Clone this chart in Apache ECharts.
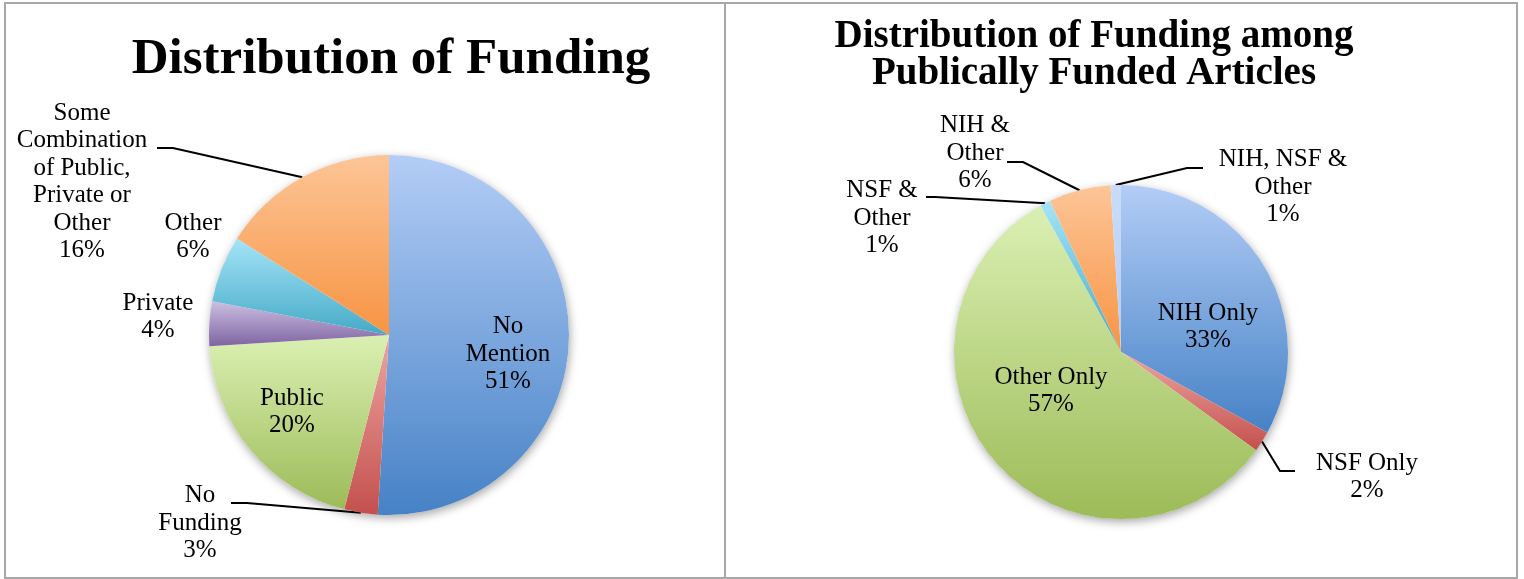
<!DOCTYPE html>
<html><head><meta charset="utf-8">
<script src="https://cdn.jsdelivr.net/npm/echarts@6/dist/echarts.min.js"></script>
<style>html,body{margin:0;padding:0;background:#fff}#c{width:1524px;height:579px}</style>
</head><body><div id="c"></div>
<script>
// ---- data ----
const leftCategories = ['No Mention', 'No Funding', 'Public', 'Private', 'Other', 'Some Combination of Public, Private or Other'];
const leftValues = [51, 3, 20, 4, 6, 16];
const rightCategories = ['NIH Only', 'NSF Only', 'Other Only', 'NSF & Other', 'NIH & Other', 'NIH, NSF & Other'];
const rightValues = [33, 2, 57, 1, 6, 1];
const leftTitle = 'Distribution of Funding';
const rightTitle = 'Distribution of Funding among\nPublically Funded Articles';

// ---- text wrapping of labels ----
const wrapText = {
  'No Mention': 'No\nMention',
  'No Funding': 'No\nFunding',
  'Some Combination of Public, Private or Other': 'Some\nCombination\nof Public,\nPrivate or\nOther',
  'NSF & Other': 'NSF &\nOther',
  'NIH & Other': 'NIH &\nOther',
  'NIH, NSF & Other': 'NIH, NSF &\nOther'
};

// ---- styles ----
const FONT = '"Liberation Serif", "Times New Roman", serif';
const pal = {
  blue: ['#b3cdf6', '#4682c6'],
  red: ['#eda5a3', '#c4504d'],
  green: ['#daf0b3', '#9dbb58'],
  purple: ['#cbbfe2', '#7f64a1'],
  cyan: ['#a5e4f8', '#45aac6'],
  orange: ['#fdc597', '#f79443'],
  pale: ['#cadcf7', '#b4cdf2']
};
const leftColors = [pal.blue, pal.red, pal.green, pal.purple, pal.cyan, pal.orange];
const rightColors = [pal.blue, pal.red, pal.green, pal.cyan, pal.orange, pal.pale];

// ---- layout ----
const LEFT = { center: [389, 335], r: 180 };
const RIGHT = { center: [1121, 352], r: 167 };
const leftLabelLayout = [
  { x: 508, y: 354 },
  { x: 200, y: 523, line: [[247, 503], [231, 503]] },
  { x: 292, y: 412 },
  { x: 158, y: 317 },
  { x: 193, y: 237 },
  { x: 82, y: 182, line: [[173, 148], [157, 148]] }
];
const rightLabelLayout = [
  { x: 1208, y: 327 },
  { x: 1367, y: 477, line: [[1280, 471], [1295, 471]] },
  { x: 1051, y: 391 },
  { x: 882, y: 218, line: [[935, 197], [926, 197]] },
  { x: 975, y: 153, line: [[1023, 162], [1007, 162]] },
  { x: 1283, y: 187, line: [[1187, 168], [1203, 168]] }
];

function grad(c) {
  return new echarts.graphic.LinearGradient(0, 0, 0, 1, [
    { offset: 0, color: c[0] }, { offset: 1, color: c[1] }
  ]);
}
function edgePoint(vals, i, geo) {
  const total = vals.reduce((a, b) => a + b, 0);
  let cum = 0;
  for (let j = 0; j < i; j++) cum += vals[j];
  const a = (cum + vals[i] / 2) / total * Math.PI * 2;
  return [geo.center[0] + geo.r * Math.sin(a), geo.center[1] - geo.r * Math.cos(a)];
}

function makePie(cats, vals, colors, geo, layout) {
  return [{
    type: 'pie', silent: true, center: geo.center, radius: geo.r, z: 1,
    animation: false, label: { show: false }, labelLine: { show: false },
    itemStyle: { color: '#ffffff', shadowBlur: 10, shadowColor: 'rgba(0,0,0,0.35)', shadowOffsetX: 1, shadowOffsetY: 3 },
    data: [{ name: 'all', value: vals.reduce((a, b) => a + b, 0) }]
  }, {
    type: 'pie', center: geo.center, radius: geo.r, z: 2, startAngle: 90, clockwise: true,
    avoidLabelOverlap: false, animation: false,
    emphasis: { disabled: true },
    label: {
      show: true, position: 'outside', color: '#000', fontFamily: FONT, fontSize: 25, lineHeight: 27.5,
      formatter: p => (wrapText[p.name] || p.name) + '\n' + Math.round(p.percent) + '%'
    },
    labelLine: { show: true, smooth: false, lineStyle: { color: '#000', width: 2 } },
    labelLayout: function (params) {
      const L = layout[params.dataIndex];
      const out = { x: L.x, y: L.y, align: 'center', verticalAlign: 'middle' };
      if (L.line) out.labelLinePoints = [edgePoint(vals, params.dataIndex, geo)].concat(L.line);
      return out;
    },
    data: cats.map((c, i) => ({
      name: c, value: vals[i],
      itemStyle: { color: grad(colors[i]), borderWidth: 0 },
      labelLine: { show: !!layout[i].line }
    }))
  }];
}

const chart = echarts.init(document.getElementById('c'), null, { renderer: 'canvas' });
chart.setOption({
  backgroundColor: '#ffffff',
  animation: false,
  graphic: [
    { type: 'rect', silent: true, z: -10, shape: { x: 5, y: 3, width: 720, height: 575 }, style: { fill: 'none', stroke: '#a8a8a8', lineWidth: 2 } },
    { type: 'rect', silent: true, z: -10, shape: { x: 725, y: 3, width: 792, height: 575 }, style: { fill: 'none', stroke: '#a8a8a8', lineWidth: 2 } },
    { type: 'text', silent: true, x: 391, y: 60, style: { text: leftTitle, fontFamily: FONT, fontWeight: 'bold', fontSize: 51, fill: '#000', align: 'center', verticalAlign: 'middle' } },
    { type: 'text', silent: true, x: 1094, y: 55, style: { text: rightTitle, fontFamily: FONT, fontWeight: 'bold', fontSize: 39, lineHeight: 37, fill: '#000', align: 'center', verticalAlign: 'middle' } }
  ],
  series: makePie(leftCategories, leftValues, leftColors, LEFT, leftLabelLayout)
    .concat(makePie(rightCategories, rightValues, rightColors, RIGHT, rightLabelLayout))
});
</script>
</body></html>
